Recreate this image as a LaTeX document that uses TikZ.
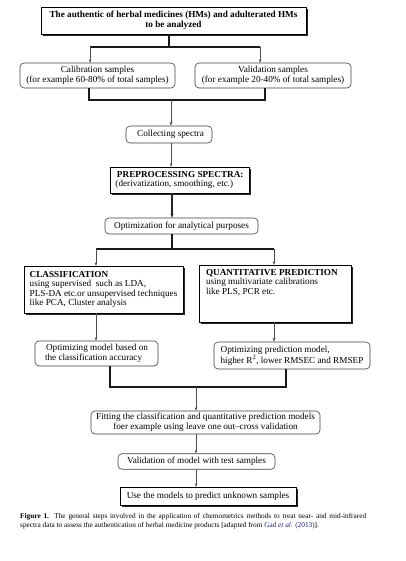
\documentclass[tikz,border=0pt]{standalone}
\usepackage{fontspec}
\setmainfont{Liberation Serif}
\usetikzlibrary{arrows.meta,shadows}
\definecolor{linkblue}{rgb}{0.12,0.12,0.45}
\begin{document}
\begin{tikzpicture}[x=1pt,y=-1pt,
 base/.style={font=\fontsize{9.2}{9.6}\selectfont, inner sep=0pt, align=center, text=black},
 sbox/.style={base, draw=black, line width=0.5pt, fill=white,
   drop shadow={shadow xshift=2pt, shadow yshift=-2pt, fill=black!85, opacity=1}},
 rbox/.style={base, draw=black!75, line width=0.6pt, rounded corners=4pt, fill=white},
 bar/.style={line width=2pt, black!90, line join=miter},
 tarrow/.style={line width=0.45pt, black!70, -{Stealth[length=3.5pt,width=2.4pt]}},
 marrow/.style={line width=1pt, black!70, -{Stealth[length=4pt,width=3pt]}},
 captext/.style={font=\fontsize{7.3}{9.2}\selectfont, inner sep=0pt, align=justify, text width=346pt, anchor=west}
]
\useasboundingbox (0,0) rectangle (405,561);
\fill[white] (0,0) rectangle (405,561);

% boxes
\node[sbox, minimum width=265pt, minimum height=27pt] (top) at (173.5,20.5)
  {\textbf{The authentic of herbal medicines (HMs) and adulterated HMs}\\\textbf{to be analyzed}};
\node[rbox, minimum width=155pt, minimum height=25pt] (calib) at (97.5,75.5)
  {Calibration samples\\(for example 60-80\% of total samples)};
\node[rbox, minimum width=156pt, minimum height=25pt] (valid) at (273,75.5)
  {Validation samples\\(for example 20-40\% of total samples)};
\node[rbox, minimum width=86pt, minimum height=17pt] (collect) at (169,134.5)
  {\hspace*{3pt}Collecting spectra};
\node[sbox, minimum width=139pt, minimum height=26pt, align=left] (preproc) at (179.5,180)
  {\hspace*{1.5pt}\textbf{PREPROCESSING SPECTRA:}\\(derivatization, smoothing, etc.)};
\node[rbox, minimum width=153pt, minimum height=16pt] (optim) at (181.5,226)
  {Optimization for analytical purposes};
\node[sbox, minimum width=159pt, minimum height=47pt, align=left] (class) at (103.5,289.5)
  {\textbf{CLASSIFICATION}\\using supervised\ \ such as LDA,\\PLS-DA etc.or unsupervised techniques\\like PCA, Cluster analysis};
\node[sbox, minimum width=152pt, minimum height=57pt, align=left] (quant) at (275,293.5)
  {\parbox[c][49pt][t]{138pt}{\textbf{QUANTITATIVE PREDICTION}\\using multivariate calibrations\\like PLS, PCR etc.}};
\node[rbox, minimum width=123pt, minimum height=25pt, align=left] (optmodel) at (96.5,353.5)
  {\hspace*{1pt}Optimizing model based on\\the classification accuracy};
\node[rbox, minimum width=156pt, minimum height=27pt, align=left] (optpred) at (292,355.5)
  {Optimizing prediction model,\\higher R\textsuperscript{2}, lower RMSEC and RMSEP};
\node[rbox, minimum width=229pt, minimum height=23pt] (fitting) at (205.5,422.5)
  {Fitting the classification and quantitative prediction models\\foer example using leave one out--cross validation};
\node[rbox, minimum width=157pt, minimum height=15.5pt] (validm) at (196.5,461.5)
  {Validation of model with test samples};
\node[sbox, minimum width=176pt, minimum height=18pt] (use) at (208,496)
  {Use the models to predict unknown samples};
\node[captext] (cap) at (20,521.5)
  {\hyphenpenalty=10000\textbf{Figure 1.} The general steps involved in the application of chemometrics methods to treat near- and mid-infrared\linebreak
   spectra data to assess the authentication of herbal medicine products [adapted from \textcolor{linkblue}{Gad \textit{et al.} (2013)}].};

% junction coordinates
\coordinate (j1) at (169,47);
\coordinate (j1l) at (90,47);
\coordinate (j1r) at (260,47);
\coordinate (j2) at (171,100);
\coordinate (j2l) at (89,100);
\coordinate (j2r) at (265,100);
\coordinate (j3) at (172,249);
\coordinate (j3l) at (96,249);
\coordinate (j3r) at (274,249);
\coordinate (j4) at (196,387);
\coordinate (j4l) at (110,387);
\coordinate (j4r) at (286,387);

% connectors
\draw[bar] (top.south -| j1) -- (j1);
\draw[bar] (j1l) -- (j1r);
\draw[tarrow] (j1l) -- (j1l |- calib.north);
\draw[tarrow] (j1r) -- (j1r |- valid.north);

\draw[bar] (calib.south -| j2l) -- (j2l) -- (j2r) -- (valid.south -| j2r);
\draw[marrow] (j2) -- (j2 |- collect.north);

\draw[tarrow] (collect.south -| j2) -- (j2 |- preproc.north);
\draw[marrow, line width=1.3pt, black!85] (preproc.south -| j3) -- (j3 |- optim.north);

\draw[bar] (optim.south -| j3) -- (j3);
\draw[bar] (j3l) -- (j3r);
\draw[tarrow] (j3l) -- (j3l |- class.north);
\draw[tarrow] (j3r) -- (j3r |- quant.north);

\draw[tarrow] (class.south -| j3l) -- (j3l |- optmodel.north);
\draw[marrow] (quant.south -| j3r) -- (j3r |- optpred.north);

\draw[bar] (optmodel.south -| j4l) -- (j4l) -- (j4r) -- (optpred.south -| j4r);
\draw[tarrow] (j4) -- (j4 |- fitting.north);
\draw[tarrow] (fitting.south -| j4) -- (j4 |- validm.north);
\draw[tarrow] (validm.south -| j4) -- (j4 |- use.north);
\end{tikzpicture}
\end{document}
